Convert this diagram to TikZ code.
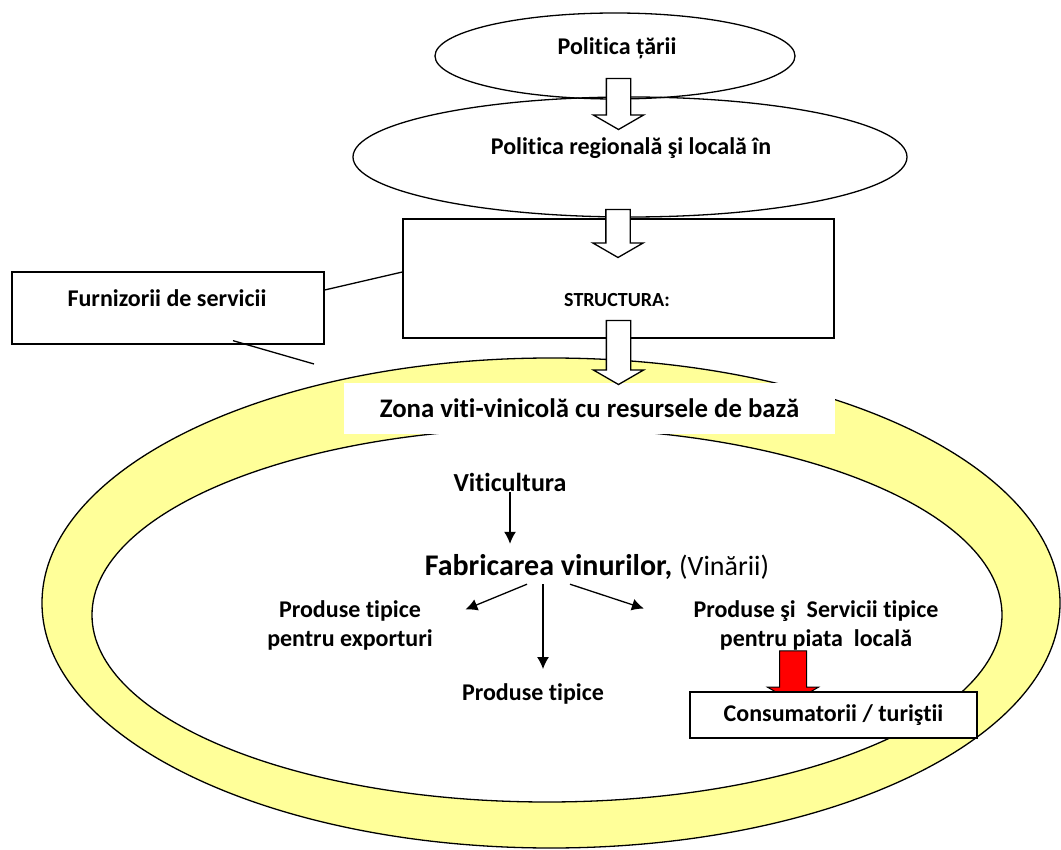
\documentclass[tikz,border=0pt]{standalone}
\usepackage{fontspec}
\setmainfont{Carlito}[Ligatures=NoCommon]
\usetikzlibrary{shapes.geometric,shapes.arrows,arrows.meta}
\definecolor{ringyellow}{RGB}{255,255,153}
\tikzset{
	lbl/.style={font=\bfseries\fontsize{24}{29}\selectfont, align=center, inner sep=0pt},
	ell/.style={draw, ellipse, inner sep=0pt},
	box/.style={draw, inner sep=0pt},
	bigarrow/.style={single arrow, draw, fill=white, inner sep=11.5pt, shape border rotate=270,
		minimum width=49pt, single arrow head extend=13pt, single arrow tip angle=120},
	arr/.style={-{Latex[length=12pt,width=12pt]}},
}
\begin{document}
\begin{tikzpicture}[x=1pt,y=-1pt,line width=1.3pt]
	\useasboundingbox (0,0) rectangle (1061,850);
	% zona viti-vinicola
	\draw[fill=ringyellow] (551,603) ellipse (509 and 245);
	\draw[fill=white] (547,615) ellipse (455 and 187);
	\node[lbl, fill=white, minimum width=491pt, minimum height=51pt, font=\bfseries\fontsize{26.8}{30}\selectfont] (zona) at (589.5,408.5) {Zona viti-vinicolă cu resursele de bază};
	% politica
	\node[ell, minimum width=360pt, minimum height=86pt] (tara) at (615,56) {};
	\node[lbl] (taratxt) at (617,48) {Politica țării};
	\node[ell, minimum width=554pt, minimum height=120pt] (reg) at (630,157) {};
	\node[lbl] (regtxt) at (631,148) {Politica regională şi locală în};
	\node[box, minimum width=431pt, minimum height=119pt] (struct) at (618.5,278.5) {};
	\node[lbl, font=\bfseries\fontsize{20}{24}\selectfont] (structtxt) at (617,300) {STRUCTURA:};
	\node[box, minimum width=312pt, minimum height=72pt] (furn) at (168,308) {};
	\node[lbl] (furntxt) at (167,298) {Furnizorii de servicii};
	\coordinate (cut) at (314,364);
	\draw ([yshift=18pt]furn.east) -- ([yshift=6.5pt]struct.west);
	\draw ([xshift=65pt,yshift=4pt]furn.south) -- (cut);
	\node[bigarrow, minimum height=51pt] (a1) at (618.5,100.5) {};
	\node[bigarrow, minimum height=48pt] (a2) at (618,230) {};
	\node[bigarrow, minimum height=64pt] (a3) at (618.5,349) {};
	% in zona
	\node[lbl, font=\bfseries\fontsize{26}{30}\selectfont] (vit) at (510,482) {Viticultura};
	\node[lbl, font=\bfseries\fontsize{30}{34}\selectfont] (fab) at (597,567) {Fabricarea vinurilor, {\mdseries\fontsize{28}{34}\selectfont(Vinării)}};
	\node[lbl] (exp) at (350,625) {Produse tipice\\pentru exporturi};
	\node[lbl] (loc) at (816,625) {Produse şi\ \ Servicii tipice\\pentru piata\ \ locală};
	\node[lbl] (tip) at (533,694) {Produse tipice};
	\draw[arr, shorten >=10pt] (vit.south) -- (vit.south |- fab.north);
	\draw[arr] ([xshift=-70pt,yshift=-4pt]fab.south) -- ([xshift=32pt,yshift=-10pt]exp.north east);
	\draw[arr, shorten >=14pt] ([xshift=-54pt,yshift=-4pt]fab.south) -- ([xshift=-54pt]fab.south |- tip.north);
	\draw[arr] ([xshift=-27pt,yshift=-4pt]fab.south) -- ([xshift=-49pt,yshift=-9pt]loc.north west);
	\node[bigarrow, fill=red, line width=1pt, inner sep=13pt, minimum width=50pt, single arrow head extend=12pt, minimum height=51pt] (red) at (793,672.5) {};
	\node[box, lbl, draw, fill=white, minimum width=287pt, minimum height=46pt] (cons) at (833.5,715) {Consumatorii / turiştii};
\end{tikzpicture}
\end{document}
